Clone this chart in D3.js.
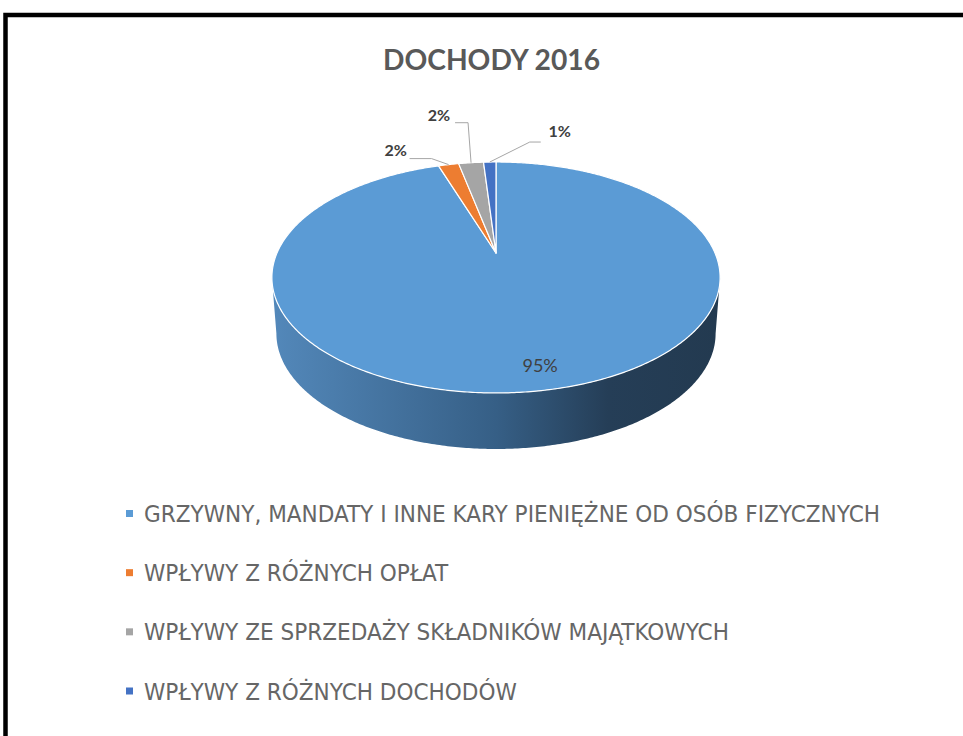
<!DOCTYPE html>
<html>
<head>
<meta charset="utf-8">
<script src="https://cdn.jsdelivr.net/npm/d3@7/dist/d3.min.js"></script>
<style>
body { margin: 0; background: #fff; }
</style>
</head>
<body>
<script>
// data
var title = "DOCHODY 2016";
var categories = [
    "GRZYWNY, MANDATY I INNE KARY PIENIĘŻNE OD OSÓB FIZYCZNYCH",
    "WPŁYWY Z RÓŻNYCH OPŁAT",
    "WPŁYWY ZE SPRZEDAŻY SKŁADNIKÓW MAJĄTKOWYCH",
    "WPŁYWY Z RÓŻNYCH DOCHODÓW"
];
var values = [94.9, 1.8, 2.2, 1.1];
var colors = ["#5b9bd5", "#ed7d31", "#a5a5a5", "#4472c4"];

// label placement (pixels, relative to the rim point of each slice)
var labelOffset = [null, [-53, -14], [-32, -47], [70, -31]];
var elbowOffset = [null, [[-39, -6], [-17, -6]], [[-16, -40], [-3, -40]], [[51, -20], [40, -20]]];

var width = 963, height = 736;
var cx = 496, cy = 253, ax = 219, by = 110.3, kp = -0.212, depth = 56;

var svg = d3.select("body").append("svg").attr("width", width).attr("height", height);

// frame
svg.append("rect").attr("x", 5.5).attr("y", 15).attr("width", 1000).attr("height", 1000)
    .attr("fill", "none").attr("stroke", "#000").attr("stroke-width", 4.5);

var defs = svg.append("defs");
var grad = defs.append("linearGradient").attr("id", "side").attr("gradientUnits", "userSpaceOnUse")
    .attr("x1", 272).attr("x2", 720).attr("y1", 0).attr("y2", 0);
[[0, "#5388ba"], [0.5, "#365f86"], [0.75, "#253e57"], [1, "#233a50"]].forEach(function (s) {
    grad.append("stop").attr("offset", s[0]).attr("stop-color", s[1]);
});

// perspective projection of a point of the pie disc
function proj(theta, r, lvl) {
    var u = r * Math.sin(theta), v = -r * Math.cos(theta), d = 1 + kp * v;
    var s = lvl ? 0.98 : 1;
    return [cx + ax * u / d * s, cy + by * v / d + lvl * depth];
}

var line = d3.line();
var pie = d3.pie().sort(null).value(function (d) { return d; });
var arcs = pie(values);

function samples(a0, a1) {
    var n = Math.max(2, Math.ceil(Math.abs(a1 - a0) / 0.01));
    return d3.range(n + 1).map(function (i) { return a0 + (a1 - a0) * i / n; });
}

// side wall: only the front half shows
var thR = Math.acos(kp);       // right silhouette
var thL = 2 * Math.PI - thR;   // left silhouette

arcs.forEach(function (a, i) {
    var a0 = Math.max(a.startAngle, thR), a1 = Math.min(a.endAngle, thL);
    if (a1 <= a0) return;
    var top = samples(a0, a1).map(function (t) { return proj(t, 1, 0); });
    var bot = samples(a1, a0).map(function (t) { return proj(t, 1, 1); });
    svg.append("path").attr("d", line(top.concat(bot)) + "Z")
        .attr("fill", i === 0 ? "url(#side)" : d3.color(colors[i]).darker(1.2));
});

// top face
arcs.forEach(function (a, i) {
    var pts = [proj(0, 0, 0)].concat(samples(a.startAngle, a.endAngle).map(function (t) { return proj(t, 1, 0); }));
    svg.append("path").attr("d", line(pts) + "Z")
        .attr("fill", colors[i]).attr("stroke", "#fff").attr("stroke-width", 1.2)
        .attr("stroke-linejoin", "round");
});

// data labels
var total = d3.sum(values);
arcs.forEach(function (a, i) {
    var txt = Math.round(a.data / total * 100) + "%";
    var mid = (a.startAngle + a.endAngle) / 2;
    if (i === 0) {
        var p = proj(mid, 0.85, 0);
        svg.append("text").attr("x", p[0] + 8).attr("y", p[1]).attr("dy", "0.35em")
            .attr("text-anchor", "middle").attr("font-family", "Lato, 'Open Sans', sans-serif")
            .attr("font-size", 18).attr("fill", "#404040").text(txt);
        return;
    }
    var rim = proj(mid, 1, 0);
    var e = elbowOffset[i];
    svg.append("path")
        .attr("d", line([[rim[0] + e[0][0], rim[1] + e[0][1]], [rim[0] + e[1][0], rim[1] + e[1][1]], rim]))
        .attr("fill", "none").attr("stroke", "#a6a6a6").attr("stroke-width", 1);
    svg.append("text").attr("x", rim[0] + labelOffset[i][0]).attr("y", rim[1] + labelOffset[i][1])
        .attr("dy", "0.35em").attr("text-anchor", "middle")
        .attr("font-family", "Lato, 'Open Sans', sans-serif").attr("font-weight", "bold")
        .attr("font-size", 16).attr("fill", "#404040").text(txt);
});

// title
svg.append("text").attr("x", 491.5).attr("y", 70).attr("text-anchor", "middle")
    .attr("font-family", "Lato, 'Open Sans', sans-serif").attr("font-weight", "bold")
    .attr("font-size", 29).attr("fill", "#595959")
    .attr("textLength", 217).attr("lengthAdjust", "spacingAndGlyphs")
    .text(title);

// legend
var ly = d3.scaleLinear().domain([0, 3]).range([513.5, 691]);
var items = svg.append("g").selectAll("g").data(categories).enter().append("g")
    .attr("transform", function (d, i) { return "translate(0," + ly(i) + ")"; });
items.append("rect").attr("x", 126).attr("y", -3.5).attr("width", 7).attr("height", 7)
    .attr("fill", function (d, i) { return colors[i]; });
var lt = items.append("text").attr("x", 144).attr("y", 8.5)
    .attr("font-family", "'DejaVu Sans Condensed', 'DejaVu Sans', sans-serif")
    .attr("font-size", 23).attr("fill", "#666")
    .text(function (d) { return d; });
// squeeze all rows by the same factor so the longest fits its width
var factor = 736 / lt.nodes()[0].getComputedTextLength();
lt.each(function () {
    d3.select(this).attr("textLength", this.getComputedTextLength() * factor)
        .attr("lengthAdjust", "spacingAndGlyphs");
});
</script>
</body>
</html>
